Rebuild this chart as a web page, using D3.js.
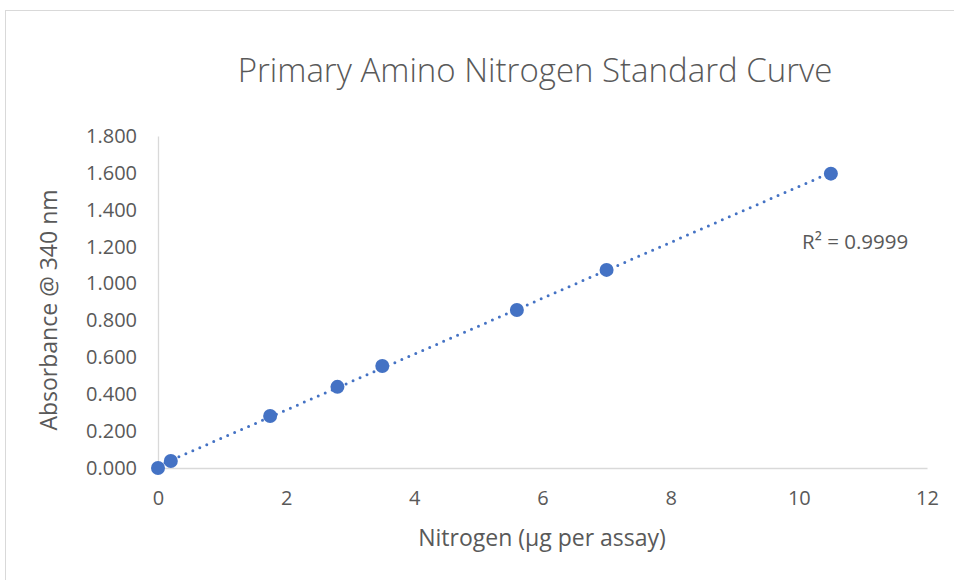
<!DOCTYPE html>
<html>
<head>
<meta charset="utf-8">
<script src="https://cdn.jsdelivr.net/npm/d3@7"></script>
<style>
  body { margin: 0; background: #fff; }
  text { font-family: "Open Sans", "Liberation Sans", sans-serif; fill: #595959; }
</style>
</head>
<body>
<div id="chart"></div>
<script>
//Datos
const nitrogen = [0, 0.2, 1.75, 2.8, 3.5, 5.6, 7, 10.5];
const absorbance = [0.000, 0.038, 0.282, 0.440, 0.553, 0.857, 1.074, 1.596];
const xTicks = [0, 2, 4, 6, 8, 10, 12];
const yTicks = [0, 0.2, 0.4, 0.6, 0.8, 1.0, 1.2, 1.4, 1.6, 1.8];
const r2Label = 'R² = 0.9999';

const COLOR_SERIE = '#4472C4', COLOR_AXIS = '#D9D9D9';

let W = 954, H = 580;
let margin = {top: 136, right: 27, bottom: 112, left: 158},
    width = W - margin.left - margin.right,
    height = H - margin.top - margin.bottom;

let svgRoot = d3.select('#chart').append('svg')
    .attr('width', W).attr('height', H);

//Borde del área del gráfico
svgRoot.append('rect')
    .attr('x', 5.5).attr('y', 10.5)
    .attr('width', 1000).attr('height', 1000)
    .attr('fill', 'none').attr('stroke', COLOR_AXIS);

let svg = svgRoot.append('g')
    .attr('transform', 'translate(' + margin.left + ',' + margin.top + ')');

let x = d3.scaleLinear().domain([0, 12]).range([0, width]);
let y = d3.scaleLinear().domain([0, 1.8]).range([height, 0]);

//Ejes
let xAxis = svg.append('g')
    .attr('transform', 'translate(0,' + height + ')')
    .call(d3.axisBottom(x).tickValues(xTicks).tickSize(0).tickPadding(23).tickFormat(d3.format('d')));
let yAxis = svg.append('g')
    .call(d3.axisLeft(y).tickValues(yTicks).tickSize(0).tickPadding(21).tickFormat(d3.format('.3f')));

[xAxis, yAxis].forEach(function(a) {
    a.select('.domain').attr('stroke', COLOR_AXIS).attr('stroke-width', 1.3);
    a.selectAll('text').style('font-size', '20px').attr('fill', '#595959');
});

//Línea de tendencia (regresión lineal)
let mx = d3.mean(nitrogen), my = d3.mean(absorbance);
let sxy = d3.sum(nitrogen, function(d, i) { return (d - mx) * (absorbance[i] - my); }),
    sxx = d3.sum(nitrogen, function(d) { return (d - mx) * (d - mx); });
let slope = sxy / sxx, intercept = my - slope * mx;
let xMin = d3.min(nitrogen), xMax = d3.max(nitrogen);

svg.append('line')
    .attr('x1', x(xMin)).attr('y1', y(intercept + slope * xMin))
    .attr('x2', x(xMax)).attr('y2', y(intercept + slope * xMax))
    .attr('stroke', COLOR_SERIE)
    .attr('stroke-width', 3)
    .attr('stroke-linecap', 'round')
    .attr('stroke-dasharray', '0 7.6');

//Puntos
svg.append('g')
    .selectAll('circle')
    .data(nitrogen)
    .enter()
    .append('circle')
    .attr('cx', function(d) { return x(d); })
    .attr('cy', function(d, i) { return y(absorbance[i]); })
    .attr('r', 7)
    .attr('fill', COLOR_SERIE);

//Etiqueta R²
svg.append('text')
    .attr('x', x(10.05)).attr('y', y(1.2) - 3)
    .attr('dominant-baseline', 'middle')
    .style('font-size', '20.5px')
    .text(r2Label);

//Título
svgRoot.append('text')
    .attr('x', 535).attr('y', 82)
    .attr('text-anchor', 'middle')
    .style('font-size', '33px').style('font-weight', 300)
    .text('Primary Amino Nitrogen Standard Curve');

//Títulos de ejes
svgRoot.append('text')
    .attr('x', 542).attr('y', 546)
    .attr('text-anchor', 'middle')
    .style('font-size', '23px')
    .text('Nitrogen (µg per assay)');

svgRoot.append('text')
    .attr('transform', 'translate(57,310) rotate(-90)')
    .attr('text-anchor', 'middle')
    .style('font-size', '23px')
    .text('Absorbance @ 340 nm');
</script>
</body>
</html>
